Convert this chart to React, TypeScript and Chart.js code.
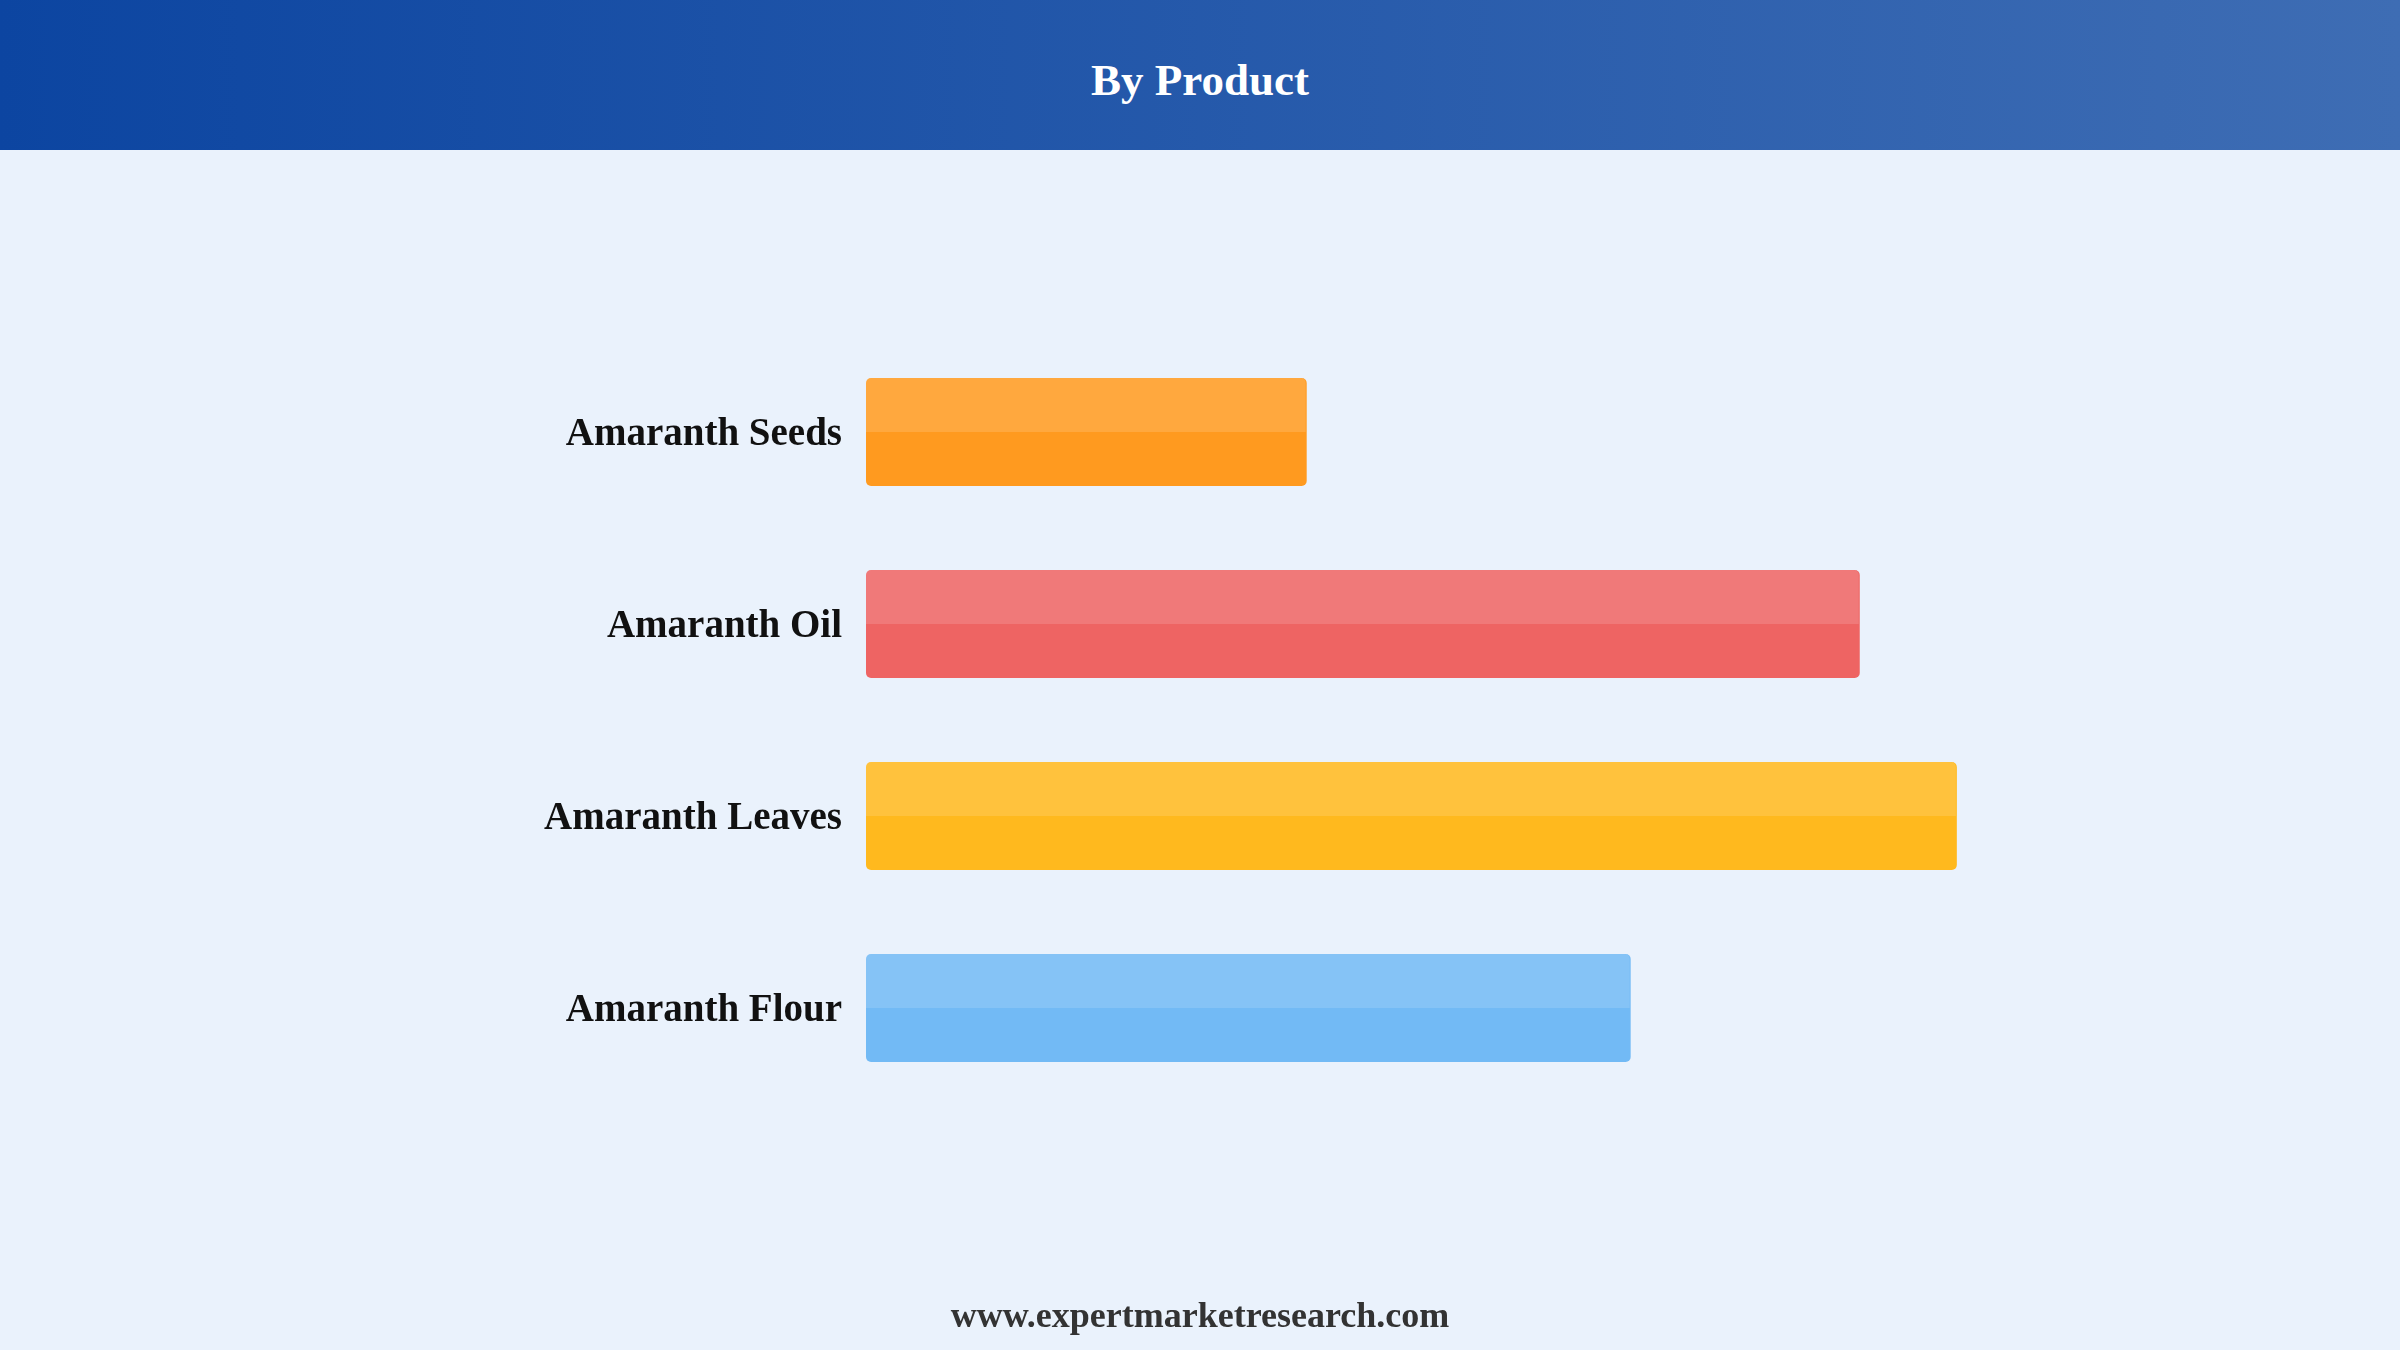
import { useEffect, useRef } from "react";
import { Chart, registerables } from "chart.js";

Chart.register(...registerables);

// Chart data
const products = ["Amaranth Seeds", "Amaranth Oil", "Amaranth Leaves", "Amaranth Flour"];
const shares = [4.04, 9.11, 10, 7.01];
const barColors = ["#FF9A1F", "#EE6463", "#FFB91E", "#72BAF5"];

// lighter top half on each bar
const topShine = {
  id: "topShine",
  afterDatasetsDraw(chart: Chart) {
    const ctx = chart.ctx;
    const meta = chart.getDatasetMeta(0);
    ctx.save();
    ctx.fillStyle = "rgba(255, 255, 255, 0.14)";
    meta.data.forEach((bar: any) => {
      const { x, y, base, height } = bar.getProps(["x", "y", "base", "height"], true);
      const left = Math.min(x, base);
      const w = Math.abs(x - base) - 1;
      ctx.beginPath();
      ctx.roundRect(left, y - height / 2, w, height / 2, [5, 5, 0, 0]);
      ctx.fill();
    });
    ctx.restore();
  },
};

export default function App() {
  const canvasRef = useRef<HTMLCanvasElement>(null);

  useEffect(() => {
    document.body.style.margin = "0";
    const canvas = canvasRef.current;
    if (!canvas) return;

    const chart = new Chart(canvas, {
      type: "bar",
      data: {
        labels: products,
        datasets: [
          {
            data: shares,
            backgroundColor: barColors,
            borderRadius: 5,
            borderSkipped: false,
            barPercentage: 0.5625,
            categoryPercentage: 1,
          },
        ],
      },
      options: {
        indexAxis: "y",
        animation: false,
        responsive: true,
        maintainAspectRatio: false,
        layout: {
          padding: { left: 0, right: 225, top: 336, bottom: 246 },
        },
        plugins: {
          legend: { display: false },
          tooltip: { enabled: false },
        },
        scales: {
          x: {
            display: false,
            min: 0,
            max: 12,
          },
          y: {
            grid: { display: false },
            border: { display: false },
            ticks: {
              color: "#111111",
              padding: 16,
              labelOffset: 3,
              font: { family: "'Liberation Serif', 'Times New Roman', serif", size: 39, weight: "bold" },
            },
            afterFit: (scale: any) => {
              scale.width = 866;
            },
          },
        },
      },
      plugins: [topShine],
    });

    return () => chart.destroy();
  }, []);

  return (
    <div
      style={{
        position: "relative",
        width: 2400,
        height: 1350,
        overflow: "hidden",
        background: "#EAF2FC",
        fontFamily: "'Liberation Serif', 'Times New Roman', serif",
      }}
    >
      {/* Header */}
      <div
        style={{
          position: "absolute",
          left: 0,
          top: 0,
          width: 2400,
          height: 150,
          background: "linear-gradient(to right, #0C45A1, #3E6DB4)",
        }}
      >
        <div
          style={{
            position: "absolute",
            left: 0,
            right: 0,
            top: 55,
            lineHeight: "50px",
            textAlign: "center",
            color: "#ffffff",
            fontWeight: "bold",
            fontSize: 45,
          }}
        >
          By Product
        </div>
      </div>

      {/* Chart */}
      <div style={{ position: "absolute", left: 0, top: 0, width: 2400, height: 1350 }}>
        <canvas ref={canvasRef}></canvas>
      </div>

      {/* Footer */}
      <div
        style={{
          position: "absolute",
          left: 0,
          right: 0,
          top: 1297,
          lineHeight: "36px",
          textAlign: "center",
          color: "#333333",
          fontWeight: "bold",
          fontSize: 36,
        }}
      >
        www.expertmarketresearch.com
      </div>
    </div>
  );
}
